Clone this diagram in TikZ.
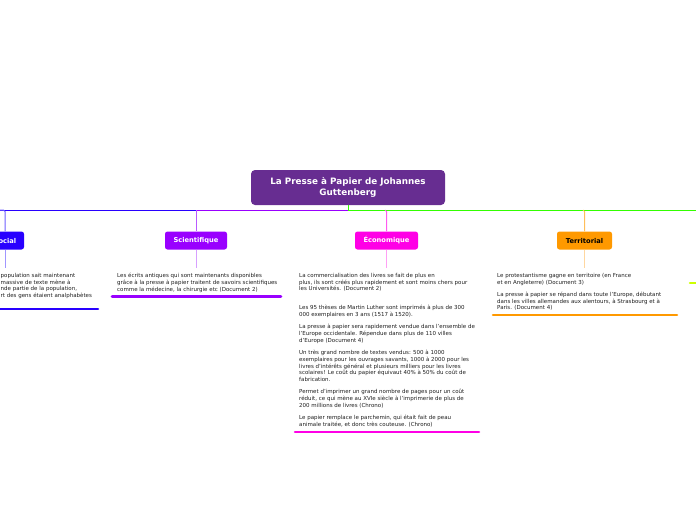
\documentclass[tikz,border=0pt]{standalone}
\usepackage{fontspec}
\setmainfont{DejaVu Sans}
\definecolor{rootc}{RGB}{103,45,145}
\definecolor{socc}{RGB}{40,0,255}
\definecolor{socl}{RGB}{110,95,255}
\definecolor{socll}{RGB}{160,150,255}
\definecolor{scic}{RGB}{153,0,255}
\definecolor{scil}{RGB}{185,90,255}
\definecolor{scill}{RGB}{215,160,255}
\definecolor{ecoc}{RGB}{255,0,230}
\definecolor{ecol}{RGB}{255,90,240}
\definecolor{ecoll}{RGB}{255,160,245}
\definecolor{terc}{RGB}{255,153,0}
\definecolor{terl}{RGB}{255,190,90}
\definecolor{terll}{RGB}{255,215,160}
\definecolor{grc}{RGB}{51,255,0}
\definecolor{ylc}{RGB}{204,255,0}
\definecolor{txt}{RGB}{30,30,30}
\begin{document}
\begin{tikzpicture}[x=1pt,y=-1pt,
  body/.style={anchor=north west, inner sep=0pt, align=left, text=txt,
    font=\fontsize{5.5}{6.75}\selectfont},
  branch/.style={rounded corners=2.5pt, minimum height=18pt, inner sep=0pt,
    font=\fontsize{6.7}{7}\selectfont\bfseries, text=white},
  bus/.style={line width=1pt},
  ul/.style={line width=2.6pt},
]
\useasboundingbox (0,0) rectangle (696,520);
% root
\node[fill=rootc, rounded corners=4pt, minimum width=194pt, minimum height=35pt,
  inner sep=0pt, text=white, align=center,
  font=\fontsize{8.8}{10.8}\selectfont\bfseries] (root) at (348,187.5)
  {La Presse à Papier de Johannes\\Guttenberg};
% branch nodes
\node[branch, fill=socc, minimum width=38pt] (soc) at (5,240.5) {Social};
\node[branch, fill=scic, minimum width=62pt] (sci) at (196,240.5) {Scientifique};
\node[branch, fill=ecoc, minimum width=63pt] (eco) at (386.5,240.5) {Économique};
\node[branch, fill=terc, minimum width=55pt, text=black] (ter) at (584.5,240.5) {Territorial};
% bus
\coordinate (j) at (348,210);
\coordinate (jsci) at (196,210);
\coordinate (busL) at (-2,210);
\coordinate (busR) at (698,210);
\draw[bus, grc] (root.south) -- (j) -- (busR);
\draw[bus, scic] (j) -- (jsci);
\draw[bus, socc] (jsci) -- (busL);
\draw[bus, socl, rounded corners=1.5pt] (-1,210) -| (soc.north);
\draw[bus, scil, rounded corners=1.5pt] (jsci) -- (sci.north);
\draw[bus, ecol, rounded corners=1.5pt] (385,210) -| (eco.north);
\draw[bus, terl, rounded corners=1.5pt] (583,210) -| (ter.north);
% texts
\node[body] (soct) at (0.5,273) {population sait maintenant\\massive de texte mène à\\nde partie de la population,\\rt des gens étaient analphabètes};
\node[body] (scit) at (117,273) {Les écrits antiques qui sont maintenants disponibles\\grâce à la presse à papier traitent de savoirs scientifiques\\comme la médecine, la chirurgie etc (Document 2)};
\node[body] (ecot) at (299,273) {La commercialisation des livres se fait de plus en\\plus, ils sont créés plus rapidement et sont moins chers pour\\les Universités. (Document 2)\\[12pt]
Les 95 thèses de Martin Luther sont imprimés à plus de 300\\000 exemplaires en 3 ans (1517 à 1520).\\[5.6pt]
La presse à papier sera rapidement vendue dans l'ensemble de\\l'Europe occidentale. Répendue dans plus de 110 villes\\d'Europe (Document 4)\\[5.6pt]
Un très grand nombre de textes vendus: 500 à 1000\\exemplaires pour les ouvrages savants, 1000 à 2000 pour les\\livres d'intérêts général et plusieurs milliers pour les livres\\scolaires! Le coût du papier équivaut 40\% à 50\% du coût de\\fabrication.\\[5.6pt]
Permet d'imprimer un grand nombre de pages pour un coût\\réduit, ce qui mène au XVIe siècle à l'imprimerie de plus de\\200 millions de livres (Chrono)\\[5.6pt]
Le papier remplace le parchemin, qui était fait de peau\\animale traitée, et donc très couteuse. (Chrono)};
\node[body] (tert) at (497,273) {Le protestantisme gagne en territoire (en France\\et en Angleterre) (Document 3)\\[5.6pt]
La presse à papier se répand dans toute l'Europe, débutant\\dans les villes allemandes aux alentours, à Strasbourg et à\\Paris. (Document 4)};
% stems
\draw[bus, socll] (soc.south) -- (soc.south |- 0,268);
\draw[bus, scill] (sci.south) -- (sci.south |- 0,268);
\draw[bus, ecoll] (eco.south) -- (eco.south |- 0,268);
\draw[bus, terll] (ter.south) -- (ter.south |- 0,268);
% underlines
\coordinate (socu1) at (-2,309); \coordinate (socu2) at (98,309);
\coordinate (sciu1) at (112,296.5); \coordinate (sciu2) at (281,296.5);
\coordinate (ecou1) at (295,432); \coordinate (ecou2) at (479,432);
\coordinate (teru1) at (493,315); \coordinate (teru2) at (677,315);
\coordinate (ylu1) at (690,283); \coordinate (ylu2) at (700,283);
\draw[ul, socc, line cap=round] (socu1) -- (socu2);
\draw[ul, scic, line cap=round] (sciu1) -- (sciu2);
\draw[ul, ecoc, line cap=round] (ecou1) -- (ecou2);
\draw[ul, terc, line cap=round] (teru1) -- (teru2);
\draw[ul, ylc, line cap=round] (ylu1) -- (ylu2);
\end{tikzpicture}
\end{document}
